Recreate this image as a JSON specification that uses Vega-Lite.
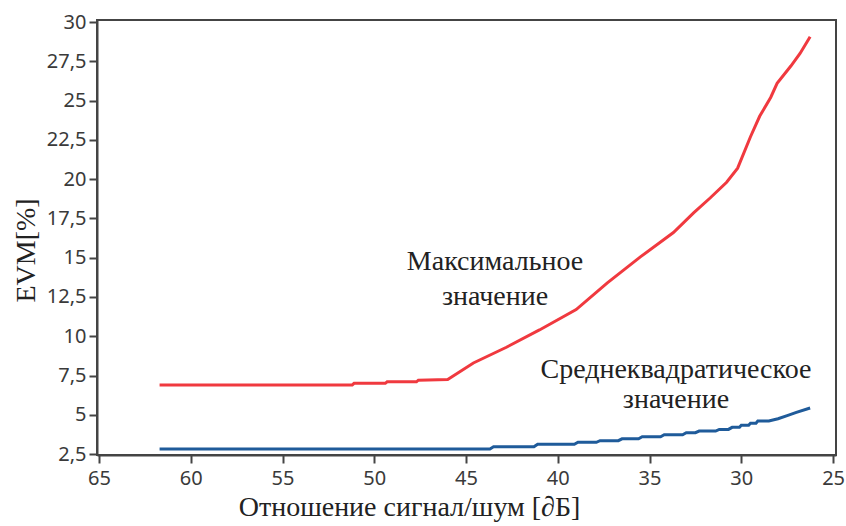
{
  "$schema": "https://vega.github.io/schema/vega-lite/v6.json",
  "width": 739,
  "height": 435,
  "padding": {"left": 97, "top": 20, "right": 10, "bottom": 71},
  "autosize": {"type": "none"},
  "background": "white",
  "config": {
    "view": {"stroke": "#444", "strokeWidth": 2},
    "axis": {
      "domainColor": "#444", "domainWidth": 2,
      "tickColor": "#444", "tickWidth": 2, "tickSize": 8,
      "labelFont": "Noto Sans", "labelFontSize": 20, "labelColor": "#3a3a3a",
      "labelOverlap": false,
      "titleFont": "Liberation Serif", "titleFontWeight": "normal", "titleColor": "#222",
      "grid": false
    }
  },
  "datasets": {
    "curves": [
      {"snr": 61.7, "evm": 6.9, "series": "max"},
      {"snr": 51.2, "evm": 6.9, "series": "max"},
      {"snr": 51.1, "evm": 7.0, "series": "max"},
      {"snr": 49.4, "evm": 7.0, "series": "max"},
      {"snr": 49.3, "evm": 7.1, "series": "max"},
      {"snr": 47.7, "evm": 7.1, "series": "max"},
      {"snr": 47.6, "evm": 7.2, "series": "max"},
      {"snr": 46.0, "evm": 7.25, "series": "max"},
      {"snr": 44.6, "evm": 8.3, "series": "max"},
      {"snr": 42.8, "evm": 9.3, "series": "max"},
      {"snr": 41.0, "evm": 10.4, "series": "max"},
      {"snr": 39.0, "evm": 11.7, "series": "max"},
      {"snr": 37.3, "evm": 13.4, "series": "max"},
      {"snr": 35.5, "evm": 15.05, "series": "max"},
      {"snr": 33.7, "evm": 16.6, "series": "max"},
      {"snr": 32.6, "evm": 17.85, "series": "max"},
      {"snr": 31.7, "evm": 18.8, "series": "max"},
      {"snr": 30.8, "evm": 19.8, "series": "max"},
      {"snr": 30.2, "evm": 20.7, "series": "max"},
      {"snr": 29.5, "evm": 22.7, "series": "max"},
      {"snr": 29.0, "evm": 24.0, "series": "max"},
      {"snr": 28.4, "evm": 25.2, "series": "max"},
      {"snr": 28.05, "evm": 26.1, "series": "max"},
      {"snr": 27.3, "evm": 27.2, "series": "max"},
      {"snr": 26.8, "evm": 28.0, "series": "max"},
      {"snr": 26.25, "evm": 29.06, "series": "max"},
      {"snr": 61.7, "evm": 2.82, "series": "rms"},
      {"snr": 43.7, "evm": 2.82, "series": "rms"},
      {"snr": 43.5, "evm": 2.96, "series": "rms"},
      {"snr": 41.3, "evm": 2.96, "series": "rms"},
      {"snr": 41.1, "evm": 3.12, "series": "rms"},
      {"snr": 39.1, "evm": 3.12, "series": "rms"},
      {"snr": 38.9, "evm": 3.25, "series": "rms"},
      {"snr": 37.9, "evm": 3.25, "series": "rms"},
      {"snr": 37.7, "evm": 3.35, "series": "rms"},
      {"snr": 36.7, "evm": 3.35, "series": "rms"},
      {"snr": 36.5, "evm": 3.47, "series": "rms"},
      {"snr": 35.6, "evm": 3.47, "series": "rms"},
      {"snr": 35.4, "evm": 3.6, "series": "rms"},
      {"snr": 34.4, "evm": 3.6, "series": "rms"},
      {"snr": 34.2, "evm": 3.73, "series": "rms"},
      {"snr": 33.2, "evm": 3.73, "series": "rms"},
      {"snr": 33.0, "evm": 3.86, "series": "rms"},
      {"snr": 32.5, "evm": 3.86, "series": "rms"},
      {"snr": 32.3, "evm": 3.96, "series": "rms"},
      {"snr": 31.4, "evm": 3.96, "series": "rms"},
      {"snr": 31.2, "evm": 4.07, "series": "rms"},
      {"snr": 30.7, "evm": 4.07, "series": "rms"},
      {"snr": 30.5, "evm": 4.2, "series": "rms"},
      {"snr": 30.1, "evm": 4.2, "series": "rms"},
      {"snr": 30.0, "evm": 4.33, "series": "rms"},
      {"snr": 29.6, "evm": 4.33, "series": "rms"},
      {"snr": 29.5, "evm": 4.46, "series": "rms"},
      {"snr": 29.2, "evm": 4.46, "series": "rms"},
      {"snr": 29.1, "evm": 4.6, "series": "rms"},
      {"snr": 28.5, "evm": 4.6, "series": "rms"},
      {"snr": 28.0, "evm": 4.75, "series": "rms"},
      {"snr": 27.5, "evm": 4.95, "series": "rms"},
      {"snr": 27.0, "evm": 5.15, "series": "rms"},
      {"snr": 26.25, "evm": 5.43, "series": "rms"}
    ],
    "labels": [
      {"snr": 43.42, "evm": 14.22, "text": "Максимальное"},
      {"snr": 43.42, "evm": 11.99, "text": "значение"},
      {"snr": 33.56, "evm": 7.34, "text": "Среднеквадратическое"},
      {"snr": 33.56, "evm": 5.43, "text": "значение"}
    ]
  },
  "layer": [
    {
      "data": {"name": "curves"},
      "mark": {"type": "line", "strokeWidth": 3},
      "encoding": {
        "x": {
          "field": "snr", "type": "quantitative",
          "scale": {"domain": [24.84, 65.11], "reverse": true, "nice": false, "zero": false},
          "axis": {
            "values": [25, 30, 35, 40, 45, 50, 55, 60, 65],
            "tickCount": 20,
            "format": "d",
            "title": "Отношение сигнал/шум [∂Б]",
            "titleFontSize": 28, "titlePadding": 5,
            "titleX": 312, "titleAnchor": "middle",
            "labelPadding": 5, "labelFlush": false, "labelOverlap": false
          }
        },
        "y": {
          "field": "evm", "type": "quantitative",
          "scale": {"domain": [2.44, 30.13], "nice": false, "zero": false},
          "axis": {
            "values": [2.5, 5, 7.5, 10, 12.5, 15, 17.5, 20, 22.5, 25, 27.5, 30],
            "tickCount": 20,
            "format": ".1~f",
            "labelExpr": "replace(datum.label, '.', ',')",
            "title": "EVM[%]", "titleFontSize": 28, "titlePadding": 6,
            "titleY": 230,
            "labelPadding": 3, "labelFlush": false, "labelOverlap": false, "labelBound": false
          }
        },
        "color": {
          "field": "series", "type": "nominal",
          "scale": {"domain": ["max", "rms"], "range": ["#f0393f", "#1f5b9a"]},
          "legend": null
        },
        "detail": {"field": "series"},
        "order": {"field": "snr", "sort": "descending"}
      }
    },
    {
      "data": {"name": "labels"},
      "mark": {"type": "text", "font": "Liberation Serif", "fontSize": 28, "baseline": "alphabetic", "align": "center", "color": "#222"},
      "encoding": {
        "x": {"field": "snr", "type": "quantitative"},
        "y": {"field": "evm", "type": "quantitative"},
        "text": {"field": "text"}
      }
    }
  ]
}
